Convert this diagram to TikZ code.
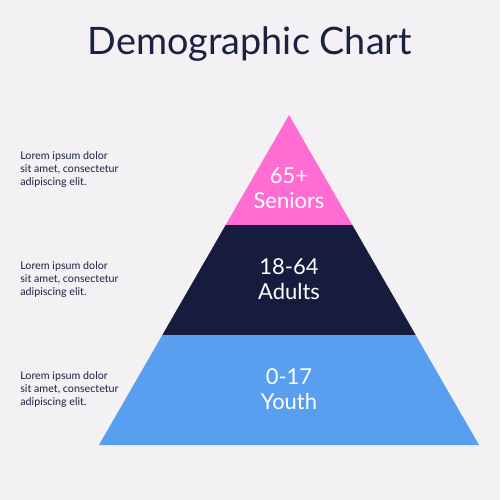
\documentclass[tikz,border=0pt]{standalone}
\usepackage{fontspec}
\setmainfont{Lato}
\usetikzlibrary{calc}
\definecolor{bgcol}{HTML}{F3F1F3}
\definecolor{inkcol}{HTML}{1B2142}
\definecolor{seniorcol}{HTML}{FF6CD2}
\definecolor{adultcol}{HTML}{161C3E}
\definecolor{youthcol}{HTML}{589FEF}
\tikzset{
  tierlabel/.style={align=center, text=white, font=\fontsize{12.5}{14.2}\selectfont},
  sidenote/.style={anchor=west, align=left, text=inkcol, inner sep=0pt,
    font=\fontsize{6.1}{7.4}\selectfont}
}

\begin{document}
\begin{tikzpicture}[x=0.02cm, y=-0.02cm]

    % 1. Background
    \fill[bgcol] (0,0) rectangle (500,500);
    \useasboundingbox (0,0) rectangle (500,500);

    % 2. Title
    \node[text=inkcol, font=\fontsize{21.5}{24}\selectfont] (title) at (250,44) {Demographic Chart};

    % 3. Pyramid corners
    \coordinate (apex) at (289,115);
    \coordinate (bl) at (99,445);
    \coordinate (br) at (479,445);
    \coordinate (l1) at ($(apex)!1/3!(bl)$);
    \coordinate (r1) at ($(apex)!1/3!(br)$);
    \coordinate (l2) at ($(apex)!2/3!(bl)$);
    \coordinate (r2) at ($(apex)!2/3!(br)$);

    % 4. The three tiers
    \fill[seniorcol] (apex) -- (r1) -- (l1) -- cycle;
    \fill[adultcol] (l1) -- (r1) -- (r2) -- (l2) -- cycle;
    \fill[youthcol] (l2) -- (r2) -- (br) -- (bl) -- cycle;

    % 5. Tier labels
    \node[tierlabel] (seniors) at (289,188) {65+\\Seniors};
    \node[tierlabel] (adults) at (289,279) {18-64\\Adults};
    \node[tierlabel] (youth) at (289,389) {0-17\\Youth};

    % 6. Side notes
    \node[sidenote] (note1) at (20,170) {Lorem ipsum dolor\\sit amet, consectetur\\adipiscing elit.};
    \node[sidenote] (note2) at (20,280) {Lorem ipsum dolor\\sit amet, consectetur\\adipiscing elit.};
    \node[sidenote] (note3) at (20,390) {Lorem ipsum dolor\\sit amet, consectetur\\adipiscing elit.};

\end{tikzpicture}
\end{document}
